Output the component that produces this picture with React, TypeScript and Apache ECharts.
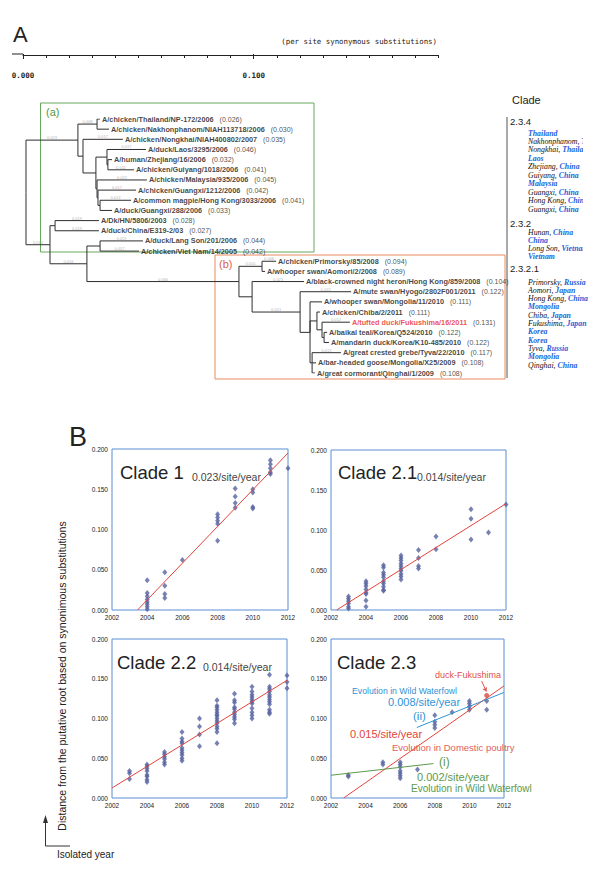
import React, { useEffect, useRef } from 'react';
import * as echarts from 'echarts';

// ---------------- Panel A : phylogenetic tree ----------------
const leafNames = [
  'A/chicken/Thailand/NP-172/2006',
  'A/chicken/Nakhonphanom/NIAH113718/2006',
  'A/chicken/Nongkhai/NIAH400802/2007',
  'A/duck/Laos/3295/2006',
  'A/human/Zhejiang/16/2006',
  'A/chicken/Guiyang/1018/2006',
  'A/chicken/Malaysia/935/2006',
  'A/chicken/Guangxi/1212/2006',
  'A/common magpie/Hong Kong/3033/2006',
  'A/duck/Guangxi/288/2006',
  'A/Dk/HN/5806/2003',
  'A/duck/China/E319-2/03',
  'A/duck/Lang Son/201/2006',
  'A/chicken/Viet Nam/14/2005',
  'A/chicken/Primorsky/85/2008',
  'A/whooper swan/Aomori/2/2008',
  'A/black-crowned night heron/Hong Kong/859/2008',
  'A/mute swan/Hyogo/2802F001/2011',
  'A/whooper swan/Mongolia/11/2010',
  'A/chicken/Chiba/2/2011',
  'A/tufted duck/Fukushima/16/2011',
  'A/baikal teal/Korea/Q524/2010',
  'A/mandarin duck/Korea/K10-485/2010',
  'A/great crested grebe/Tyva/22/2010',
  'A/bar-headed goose/Mongolia/X25/2009',
  'A/great cormorant/Qinghai/1/2009',
];
const leafDist = [0.026, 0.030, 0.035, 0.046, 0.032, 0.041, 0.045, 0.042, 0.041, 0.033, 0.028, 0.027, 0.044, 0.042,
  0.094, 0.089, 0.104, 0.122, 0.111, 0.111, 0.131, 0.122, 0.122, 0.117, 0.108, 0.108];
// tip positions read on the scale bar (per site synonymous substitutions)
const leafTipX = [0.0334, 0.0373, 0.0433, 0.0533, 0.0386, 0.0481, 0.0537, 0.0490, 0.0468, 0.0386, 0.0329, 0.0329,
  0.0520, 0.0503, 0.1097, 0.1049, 0.1218, 0.1422, 0.1296, 0.1287, 0.1417, 0.1318, 0.1326, 0.1378, 0.1270, 0.1266];
const highlightLeaf = 20;

const nodeIds = ['root', 'NA', 'NT', 'NB', 'NC', 'ND', 'NE', 'NF', 'NG', 'NH', 'NL', 'N03', 'NM', 'NLS',
  'Nbc', 'NP', 'NQ', 'NR', 'NS', 'NU', 'NX', 'NY', 'NV'];
const nodeX = [0.0013, 0.0238, 0.0321, 0.0260, 0.0316, 0.0364, 0.0368, 0.0321, 0.0325, 0.0334, 0.0117, 0.0139,
  0.0277, 0.0334, 0.0936, 0.1036, 0.0993, 0.1201, 0.1244, 0.1274, 0.1296, 0.1305, 0.1253];
const nodeKids: (string | number)[][] = [
  ['NA', 'NL'], ['NT', 'NB'], [0, 1], [2, 'NC'], ['ND', 'NF'], [3, 'NE'], [4, 5], [6, 'NG'], [7, 'NH'], [8, 9],
  ['N03', 'NM'], [10, 11], ['NLS', 'Nbc'], [12, 13], ['NP', 'NQ'], [14, 15], [16, 'NR'], [17, 'NS'],
  [18, 'NU', 'NV'], [19, 'NX'], [20, 'NY'], [21, 22], [23, 24, 25],
];

const scaleLabels = [0, 0.1];

const clade234 = [['', 'Thailand'], ['Nakhonphanom, ', 'Thailand'], ['Nongkhai, ', 'Thailand'], ['', 'Laos'],
  ['Zhejiang, ', 'China'], ['Guiyang, ', 'China'], ['', 'Malaysia'], ['Guangxi, ', 'China'],
  ['Hong Kong, ', 'China'], ['Guangxi, ', 'China']];
const clade232 = [['Hunan, ', 'China'], ['', 'China'], ['Long Son, ', 'Vietnam'], ['', 'Vietnam']];
const clade2321 = [['Primorsky, ', 'Russia'], ['Aomori, ', 'Japan'], ['Hong Kong, ', 'China'], ['', 'Mongolia'],
  ['Chiba, ', 'Japan'], ['Fukushima, ', 'Japan'], ['', 'Korea'], ['', 'Korea'], ['Tyva, ', 'Russia'],
  ['', 'Mongolia'], ['Qinghai, ', 'China']];

// ---------------- Panel B : root-to-tip regressions ----------------
const clade1Years = [2004, 2005, 2006, 2008, 2009, 2010, 2011, 2012];
const clade1Values = [
  [0.037, 0.021, 0.017, 0.013, 0.010, 0.007, 0.004, 0.001],
  [0.047, 0.030, 0.020, 0.015],
  [0.062],
  [0.119, 0.115, 0.111, 0.107, 0.086],
  [0.151, 0.141, 0.133, 0.127],
  [0.150, 0.146, 0.128, 0.126],
  [0.186, 0.181, 0.176, 0.171, 0.169],
  [0.176],
];
const clade1Fit = [[2003.45, 0], [2012, 0.195]];

const clade21Years = [2003, 2004, 2005, 2006, 2007, 2008, 2010, 2011, 2012];
const clade21Values = [
  [0.017, 0.014, 0.011, 0.008, 0.004, 0.002],
  [0.036, 0.033, 0.030, 0.026, 0.022, 0.020, 0.012, 0.004],
  [0.056, 0.053, 0.047, 0.044, 0.041, 0.036, 0.033, 0.029, 0.025, 0.024],
  [0.068, 0.065, 0.062, 0.058, 0.055, 0.052, 0.049, 0.045, 0.042, 0.038],
  [0.075, 0.065, 0.055, 0.052],
  [0.092, 0.076],
  [0.126, 0.114, 0.088],
  [0.097],
  [0.132],
];
const clade21Fit = [[2002.32, 0], [2012, 0.133]];

const clade22Years = [2003, 2004, 2005, 2006, 2007, 2008, 2009, 2010, 2011, 2012];
const clade22Values = [
  [0.034, 0.031, 0.024],
  [0.042, 0.040, 0.037, 0.034, 0.029, 0.027, 0.023, 0.020],
  [0.058, 0.055, 0.052, 0.049, 0.045, 0.042],
  [0.083, 0.075, 0.071, 0.069, 0.063, 0.060, 0.057, 0.054, 0.050, 0.047],
  [0.100, 0.090, 0.080, 0.065],
  [0.123, 0.116, 0.114, 0.111, 0.108, 0.105, 0.103, 0.100, 0.097, 0.094, 0.090, 0.087, 0.083, 0.069],
  [0.131, 0.123, 0.120, 0.114, 0.112, 0.108, 0.105, 0.102, 0.099, 0.094],
  [0.140, 0.134, 0.130, 0.127, 0.124, 0.121, 0.119, 0.113, 0.108, 0.104, 0.100],
  [0.155, 0.140, 0.137, 0.134, 0.130, 0.127, 0.124, 0.121, 0.118, 0.111, 0.108, 0.106],
  [0.154, 0.146, 0.138],
];
const clade22Fit = [[2002, 0.0126], [2012, 0.148]];

const clade23Years = [2003, 2005, 2006, 2007, 2008, 2009, 2010, 2011];
const clade23Values = [
  [0.029, 0.027],
  [0.045, 0.042],
  [0.045, 0.042, 0.039, 0.034, 0.031, 0.028, 0.025],
  [0.036],
  [0.104, 0.096, 0.092, 0.088],
  [0.108],
  [0.122, 0.119, 0.115, 0.111],
  [0.122, 0.111],
];
const clade23Fukushima = [[2011, 0.129]];
const clade23PoultryFit = [[2002.73, 0], [2012, 0.141]];
const clade23WildIIFit = [[2006.96, 0.0887], [2012, 0.1328]];
const clade23WildIFit = [[2002, 0.0286], [2007.92, 0.0433]];
const clade23Arrow = [[2010.71, 0.147], [2010.98, 0.134]];

const yearTicks = { min: 2002, max: 2012, interval: 2 };
const distTicks = { min: 0, max: 0.2, interval: 0.05 };

const flat = (years: number[], vals: number[][]) =>
  years.flatMap((y, i) => vals[i].map((v) => [y, v]));

const SANS = 'Liberation Sans';
const SERIF = 'Liberation Serif';
const MONO = 'DejaVu Sans Mono';
const POINT = '#56639f';
const RED = '#e2443c';
const BLUE = '#2f93d6';
const GREEN = '#5b9a4b';

function buildOption() {
  // ---- tree geometry in data units ----
  const idIndex: Record<string, number> = {};
  nodeIds.forEach((id, i) => (idIndex[id] = i));
  const nY = (k: string | number): number => {
    if (typeof k === 'number') return k;
    const kids = nodeKids[idIndex[k]];
    return (nY(kids[0]) + nY(kids[kids.length - 1])) / 2;
  };
  const nX = (k: string | number) => (typeof k === 'number' ? leafTipX[k] : nodeX[idIndex[k]]);
  const edges: any[] = [];
  const branchLbl: any[] = [];
  nodeIds.forEach((id, i) => {
    const px = nodeX[i];
    const py = nY(id);
    nodeKids[i].forEach((k) => {
      const cx = nX(k);
      const cy = nY(k);
      edges.push({ coords: [[px, py], [px, cy], [cx, cy]] });
      if (cx - px >= 0.006) branchLbl.push({ value: [(px + cx) / 2, cy], len: (cx - px).toFixed(3) });
    });
  });
  const leafData = leafNames.map((n, i) => ({
    value: [leafTipX[i], i],
    label: {
      formatter: i === highlightLeaf
        ? `{r|${n}}{v|(${leafDist[i].toFixed(3)})}`
        : `{n|${n}}{v|(${leafDist[i].toFixed(3)})}`,
    },
  }));

  const scatterX = (gridIndex: number) => ({
    gridIndex, type: 'value', ...yearTicks,
    axisLine: { show: false }, axisTick: { show: false }, splitLine: { show: false },
    axisLabel: { fontSize: 6.5, color: '#222', margin: 4, fontFamily: SANS, formatter: (v: number) => String(v) },
  });
  const scatterY = (gridIndex: number) => ({
    gridIndex, type: 'value', ...distTicks,
    axisLine: { show: false }, axisTick: { show: false }, splitLine: { show: false },
    axisLabel: { fontSize: 6.5, color: '#222', margin: 4, fontFamily: SANS, formatter: (v: number) => v.toFixed(3) },
  });
  const pts = (k: number, data: number[][]) => ({
    type: 'scatter', xAxisIndex: k + 3, yAxisIndex: k + 2, symbol: 'diamond', symbolSize: [5, 6],
    itemStyle: { color: POINT }, clip: false, data, silent: true,
  });
  const fit = (k: number, data: number[][], color: string) => ({
    type: 'line', xAxisIndex: k + 3, yAxisIndex: k + 2, data, symbol: 'none', silent: true,
    lineStyle: { color, width: 1 }, z: 3,
  });

  const gridBox = { show: true, borderColor: '#5b8ed6', borderWidth: 1, backgroundColor: 'transparent' };

  const txt = (x: number, y: number, text: string, fontSize: number, fill: string, extra: any = {}) => ({
    type: 'text', x, y, silent: true,
    style: { text, fontSize, fill, fontFamily: SANS, align: 'left', verticalAlign: 'middle', ...extra },
  });
  const richList = (items: string[][], x: number, y0: number, dy: number) =>
    items.map((it, j) => ({
      type: 'text', x, y: y0 + j * dy, silent: true, z: 1,
      style: {
        text: it[0] ? `{p|${it[0]}}{c|${it[1]}}` : `{c|${it[1]}}`,
        verticalAlign: 'middle', align: 'left',
        rich: {
          p: { fontFamily: SERIF, fontStyle: 'italic', fontSize: 7.8, fill: '#111' },
          c: { fontFamily: SERIF, fontStyle: 'italic', fontWeight: 'bold', fontSize: 7.8, fill: '#1f5fd8' },
        },
      },
    }));
  const cover = (x: number, y: number, w: number, h: number) => ({
    type: 'rect', silent: true, z: 5, shape: { x, y, width: w, height: h }, style: { fill: '#fff' },
  });

  const graphic: any[] = [
    txt(13, 34, 'A', 22, '#222'),
    txt(437, 41, '(per site synonymous substitutions)', 7.4, '#222', { fontFamily: MONO, align: 'right' }),
    { type: 'line', silent: true, shape: { x1: 12, y1: 54, x2: 23, y2: 54 }, style: { stroke: '#222', lineWidth: 1 } },
    { type: 'rect', silent: true, shape: { x: 40.5, y: 103, width: 273.5, height: 149 }, style: { fill: 'none', stroke: '#66a85c', lineWidth: 1 } },
    txt(46, 112, '(a)', 11, '#4f9a45'),
    { type: 'rect', silent: true, shape: { x: 215, y: 255, width: 290, height: 124 }, style: { fill: 'none', stroke: '#ec8a5e', lineWidth: 1 } },
    txt(219, 264, '(b)', 11, '#e2604a'),
    txt(512, 100, 'Clade', 11, '#222'),
    { type: 'line', silent: true, shape: { x1: 507, y1: 117, x2: 507, y2: 378 }, style: { stroke: '#555', lineWidth: 1 } },
    txt(510, 121, '2.3.4', 9.5, '#222'),
    ...richList(clade234, 528, 133, 8.45),
    txt(510, 223, '2.3.2', 9.5, '#222'),
    ...richList(clade232, 528, 232, 8.3),
    txt(510, 268, '2.3.2.1', 9.5, '#222'),
    ...richList(clade2321, 528, 282, 8.3),
    cover(583, 126, 17, 136),
    cover(590, 276, 10, 95),

    txt(69, 437, 'B', 27, '#222'),
    txt(120, 472, 'Clade 1', 18.5, '#222'),
    txt(192, 477, '0.023/site/year', 10.5, '#444'),
    txt(338, 472, 'Clade 2.1', 18.5, '#222'),
    txt(417, 477, '0.014/site/year', 10.5, '#444'),
    txt(117, 662, 'Clade 2.2', 18.5, '#222'),
    txt(203, 667, '0.014/site/year', 10.5, '#444'),
    txt(337, 662, 'Clade 2.3', 18.5, '#222'),
    txt(435, 675, 'duck-Fukushima', 9, '#e0504a'),
    txt(352, 691, 'Evolution in Wild Waterfowl', 8.7, BLUE),
    txt(388, 702, '0.008/site/year', 11, BLUE),
    txt(413, 716, '(ii)', 11.5, BLUE),
    txt(350, 734, '0.015/site/year', 11, RED),
    txt(392, 747, 'Evolution in Domestic poultry', 9.5, '#e0605a'),
    txt(439, 762, '(i)', 12, GREEN),
    txt(417, 777, '0.002/site/year', 11, GREEN),
    txt(411, 788, 'Evolution in Wild Waterfowl', 10, GREEN),

    {
      type: 'text', x: 62, y: 676, rotation: Math.PI / 2, silent: true,
      style: { text: 'Distance from the putative root based on synonimous substitutions', fontSize: 10.5, fill: '#222', fontFamily: SANS, align: 'center', verticalAlign: 'middle' },
    },
    { type: 'polyline', silent: true, shape: { points: [[45.5, 820], [45.5, 846], [70, 846]] }, style: { fill: 'none', stroke: '#333', lineWidth: 1 } },
    { type: 'polygon', silent: true, shape: { points: [[43, 823], [48, 823], [45.5, 815]] }, style: { fill: '#333' } },
    txt(57, 854, 'Isolated year', 10, '#222'),
  ];

  return {
    animation: false,
    textStyle: { fontFamily: SANS },
    grid: [
      { left: 23, top: 54, width: 415.3, height: 1 },
      { left: 23, top: 119, width: 415.3, height: 254 },
      { left: 112, top: 449, width: 176, height: 161, ...gridBox },
      { left: 331, top: 450, width: 175, height: 160, ...gridBox },
      { left: 112, top: 639, width: 175, height: 159, ...gridBox },
      { left: 331, top: 639, width: 173, height: 159, ...gridBox },
    ],
    xAxis: [
      {
        gridIndex: 0, type: 'value', position: 'top', min: 0, max: 0.18, interval: 0.01,
        axisLine: { show: true, lineStyle: { color: '#222', width: 1 } },
        axisTick: { show: true, inside: true, length: 3, lineStyle: { color: '#222' } },
        axisLabel: { show: false }, splitLine: { show: false },
      },
      {
        gridIndex: 0, type: 'value', position: 'top', min: 0, max: 0.18,
        axisLine: { show: false },
        axisTick: { show: true, inside: true, length: 5, customValues: scaleLabels, lineStyle: { color: '#222' } },
        axisLabel: {
          inside: true, customValues: scaleLabels, formatter: (v: number) => v.toFixed(3),
          fontFamily: MONO, fontSize: 7.5, fontWeight: 'bold', color: '#222', margin: 17,
        },
        splitLine: { show: false },
      },
      { gridIndex: 1, type: 'value', min: 0, max: 0.18, show: false },
      scatterX(2), scatterX(3), scatterX(4), scatterX(5),
    ],
    yAxis: [
      { gridIndex: 0, type: 'value', min: 0, max: 1, show: false },
      { gridIndex: 1, type: 'value', min: 0, max: 25, inverse: true, show: false },
      scatterY(2), scatterY(3), scatterY(4), scatterY(5),
    ],
    series: [
      {
        type: 'lines', coordinateSystem: 'cartesian2d', xAxisIndex: 2, yAxisIndex: 1, polyline: true, silent: true,
        lineStyle: { color: '#2e2e2e', width: 1, opacity: 1 }, data: edges,
      },
      {
        type: 'scatter', xAxisIndex: 2, yAxisIndex: 1, symbolSize: 0, silent: true,
        data: branchLbl.map((b) => ({ value: b.value, name: b.len })),
        label: { show: true, position: 'top', distance: 0.5, fontSize: 4, color: '#9a9a9a', formatter: (p: any) => p.name },
      },
      {
        type: 'scatter', xAxisIndex: 2, yAxisIndex: 1, symbolSize: 0, silent: true, data: leafData,
        label: {
          show: true, position: 'right', distance: 2,
          rich: {
            n: { fontFamily: SANS, fontWeight: 'bold', fontSize: 7.3, color: '#111' },
            r: { fontFamily: SANS, fontWeight: 'bold', fontSize: 7.3, color: '#e8262a' },
            v: { fontFamily: SANS, fontSize: 7, color: '#222', padding: [0, 0, 0, 6] },
          },
        },
      },
      pts(0, flat(clade1Years, clade1Values)),
      fit(0, clade1Fit, RED),
      pts(1, flat(clade21Years, clade21Values)),
      fit(1, clade21Fit, RED),
      pts(2, flat(clade22Years, clade22Values)),
      fit(2, clade22Fit, RED),
      pts(3, flat(clade23Years, clade23Values)),
      fit(3, clade23PoultryFit, RED),
      fit(3, clade23WildIIFit, BLUE),
      fit(3, clade23WildIFit, GREEN),
      {
        type: 'scatter', xAxisIndex: 6, yAxisIndex: 5, symbol: 'circle', symbolSize: 5, silent: true,
        itemStyle: { color: '#d9483e' }, data: clade23Fukushima, z: 4,
      },
      {
        type: 'lines', coordinateSystem: 'cartesian2d', xAxisIndex: 6, yAxisIndex: 5, silent: true,
        symbol: ['none', 'arrow'], symbolSize: 4,
        lineStyle: { color: '#e0504a', width: 1, opacity: 1 }, data: [{ coords: clade23Arrow }],
      },
    ],
    graphic,
  };
}

export default function App() {
  const ref = useRef<HTMLDivElement>(null);
  useEffect(() => {
    if (!ref.current) return;
    const chart = echarts.init(ref.current, null, { renderer: 'svg' });
    chart.setOption(buildOption() as any);
    return () => chart.dispose();
  }, []);
  return (
    <div
      ref={ref}
      style={{ position: 'absolute', left: 0, top: 0, width: 600, height: 879, background: '#fff' }}
    />
  );
}
